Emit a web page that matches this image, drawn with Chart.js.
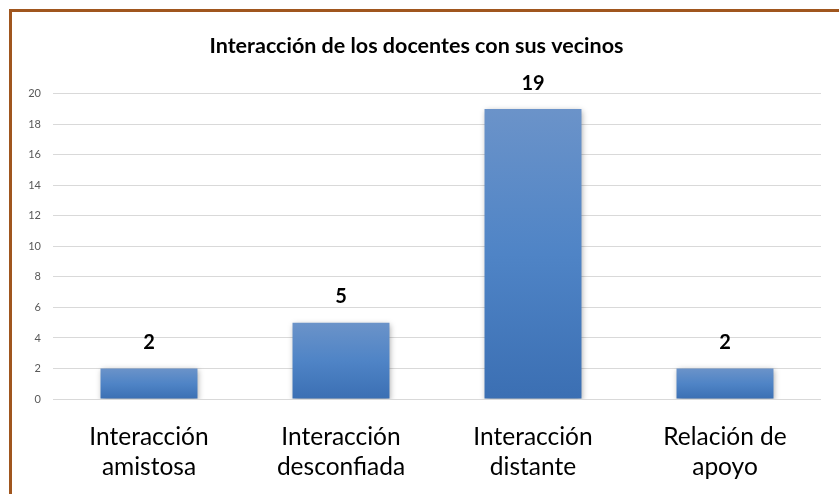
<!DOCTYPE html>
<html lang="es">
<head>
<meta charset="utf-8">
<title>Interacción de los docentes con sus vecinos</title>
<script src="https://cdn.jsdelivr.net/npm/chart.js@4/dist/chart.umd.min.js"></script>
<style>
  html, body { margin: 0; padding: 0; background: #fff; }
  #wrap { position: relative; width: 839px; height: 494px; }
</style>
</head>
<body>
<div id="wrap"><canvas id="chart" width="839" height="494"></canvas></div>
<script>
  // datos
  const categories = [
    ['Interacción', 'amistosa'],
    ['Interacción', 'desconfiada'],
    ['Interacción', 'distante'],
    ['Relación de', 'apoyo'],
  ];
  const values = [2, 5, 19, 2];
  const yTicks = [0, 2, 4, 6, 8, 10, 12, 14, 16, 18, 20];

  const FONT = 'Lato, "Open Sans", sans-serif';

  // marco marrón (arriba e izquierda)
  const framePlugin = {
    id: 'frame',
    afterDraw(chart) {
      const ctx = chart.ctx;
      ctx.save();
      ctx.strokeStyle = '#a0561e';
      ctx.lineWidth = 3;
      ctx.beginPath();
      ctx.moveTo(10.5, chart.height);
      ctx.lineTo(10.5, 10.5);
      ctx.lineTo(chart.width, 10.5);
      ctx.stroke();
      ctx.restore();
    },
  };

  // sombra suave de las barras
  const shadowPlugin = {
    id: 'barShadow',
    beforeDatasetDraw(chart) {
      const ctx = chart.ctx;
      ctx.save();
      ctx.shadowColor = 'rgba(0, 0, 0, 0.35)';
      ctx.shadowBlur = 6;
      ctx.shadowOffsetX = 1;
      ctx.shadowOffsetY = 2;
    },
    afterDatasetDraw(chart) {
      chart.ctx.restore();
    },
  };

  // etiquetas de valor encima de cada barra
  const labelPlugin = {
    id: 'valueLabels',
    afterDatasetsDraw(chart) {
      const ctx = chart.ctx;
      const meta = chart.getDatasetMeta(0);
      ctx.save();
      ctx.font = 'bold 20px ' + FONT;
      ctx.fillStyle = '#000';
      ctx.textAlign = 'center';
      ctx.textBaseline = 'middle';
      meta.data.forEach((bar, i) => {
        ctx.fillText(String(values[i]), bar.x, bar.y - 26);
      });
      ctx.restore();
    },
  };

  new Chart(document.getElementById('chart'), {
    type: 'bar',
    data: {
      labels: categories,
      datasets: [{
        data: values,
        // degradado propio de cada barra, de arriba (claro) a abajo (oscuro)
        backgroundColor: (ctx) => {
          const chart = ctx.chart;
          const yScale = chart.scales.y;
          if (!chart.chartArea || !yScale || ctx.raw == null) return '#4f81bd';
          const top = yScale.getPixelForValue(ctx.raw);
          const bottom = yScale.getPixelForValue(0);
          const g = chart.ctx.createLinearGradient(0, top, 0, bottom);
          g.addColorStop(0, '#6b93c9');
          g.addColorStop(0.5, '#4f84c6');
          g.addColorStop(1, '#3b6fb3');
          return g;
        },
        borderWidth: 0,
        barPercentage: 0.505,
        categoryPercentage: 1,
      }],
    },
    options: {
      responsive: false,
      animation: false,
      layout: { padding: { left: 12, right: 18, top: 25, bottom: 13 } },
      plugins: {
        legend: { display: false },
        tooltip: { enabled: false },
        title: {
          display: true,
          text: 'Interacción de los docentes con sus vecinos',
          color: '#000',
          font: { family: FONT, size: 21.5, weight: 'bold' },
          padding: { top: 8, bottom: 35 },
        },
      },
      scales: {
        x: {
          grid: { display: false },
          border: { display: false },
          afterFit: (axis) => { axis.height = 82; },
          ticks: {
            color: '#000',
            font: { family: FONT, size: 24.5, lineHeight: 1.22 },
            padding: 15,
            maxRotation: 0,
          },
        },
        y: {
          min: 0,
          max: 20,
          afterBuildTicks: (axis) => { axis.ticks = yTicks.map((v) => ({ value: v })); },
          afterFit: (axis) => { axis.width = 41; },
          grid: { color: '#d9d9d9', drawTicks: false },
          border: { display: false },
          ticks: {
            color: '#595959',
            font: { family: FONT, size: 11 },
            padding: 12,
          },
        },
      },
    },
    plugins: [framePlugin, shadowPlugin, labelPlugin],
  });
</script>
</body>
</html>
